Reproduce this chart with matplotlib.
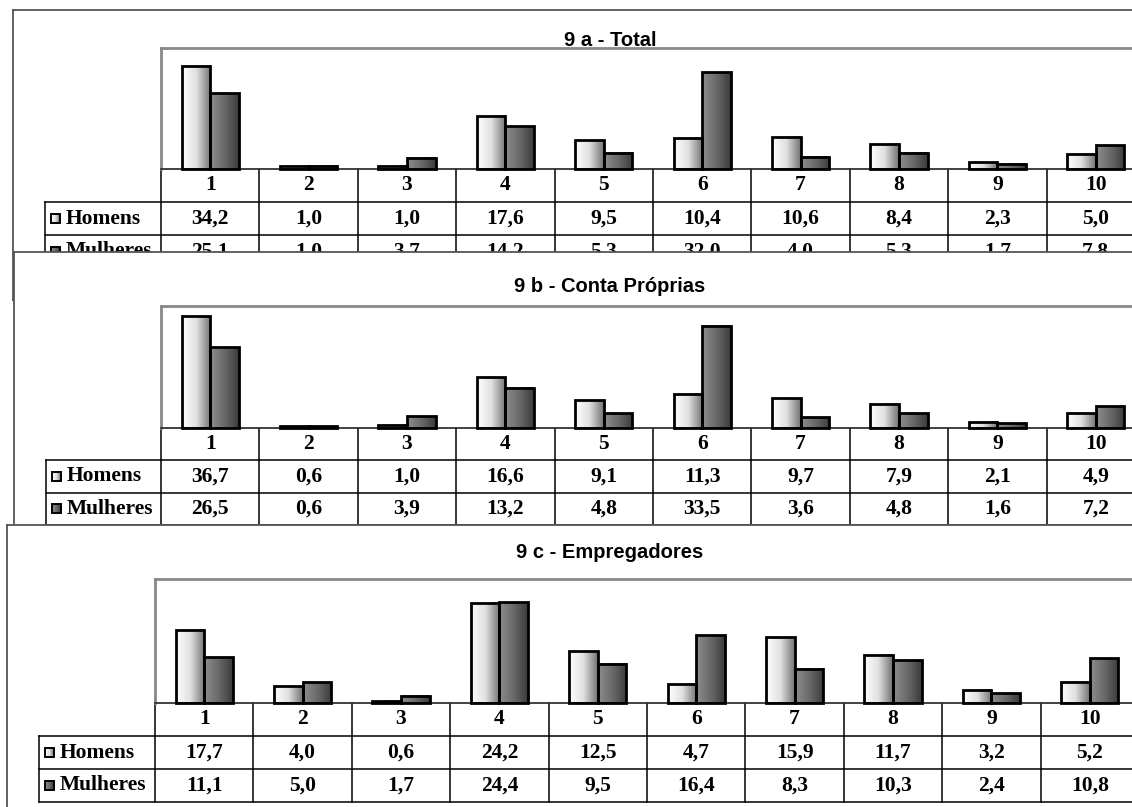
import numpy as np
import matplotlib.pyplot as plt
from matplotlib.patches import Rectangle
from matplotlib.colors import LinearSegmentedColormap

# ---------------- dados ----------------
categorias = ['1', '2', '3', '4', '5', '6', '7', '8', '9', '10']
series = ['Homens', 'Mulheres']

total_homens = [34.2, 1.0, 1.0, 17.6, 9.5, 10.4, 10.6, 8.4, 2.3, 5.0]
total_mulheres = [25.1, 1.0, 3.7, 14.2, 5.3, 32.0, 4.0, 5.3, 1.7, 7.8]

conta_homens = [36.7, 0.6, 1.0, 16.6, 9.1, 11.3, 9.7, 7.9, 2.1, 4.9]
conta_mulheres = [26.5, 0.6, 3.9, 13.2, 4.8, 33.5, 3.6, 4.8, 1.6, 7.2]

empreg_homens = [17.7, 4.0, 0.6, 24.2, 12.5, 4.7, 15.9, 11.7, 3.2, 5.2]
empreg_mulheres = [11.1, 5.0, 1.7, 24.4, 9.5, 16.4, 8.3, 10.3, 2.4, 10.8]

titulos = ['9 a - Total', '9 b - Conta Próprias', '9 c - Empregadores']
valores = [(total_homens, total_mulheres),
           (conta_homens, conta_mulheres),
           (empreg_homens, empreg_mulheres)]
ymax = [40, 40, 30]

# ---------------- layout (pixels, y para baixo) ----------------
W_PX, H_PX, DPI = 1132, 807, 100
RIGHT = 1170
COL_W = 98.4
layout = [
    # moldura x0, y0, y1 | area do grafico: esquerda, topo, base | cabecalho, altura linha, titulo y
    dict(fx=13, fy0=10, fy1=300, L=161, top=48, base=169, hl=45, rh=33, ty=40),
    dict(fx=14, fy0=252, fy1=560, L=161, top=306, base=428, hl=46, rh=32.3, ty=287),
    dict(fx=7, fy0=525, fy1=830, L=155, top=579, base=703, hl=39, rh=33, ty=553),
]

cmap_h = LinearSegmentedColormap.from_list('h', ['#ffffff', '#e0e0e0', '#727272'])
cmap_m = LinearSegmentedColormap.from_list('m', ['#8e8e8e', '#6a6a6a', '#3a3a3a'])
grad = np.linspace(0, 1, 256).reshape(1, -1)

serif = dict(family='Liberation Serif', weight='bold', size=15.5)
sans = dict(family='Liberation Sans', weight='bold', size=14.5)

fig = plt.figure(figsize=(W_PX / DPI, H_PX / DPI), dpi=DPI)
fig.patch.set_facecolor('white')


def px_axes(x0, y0, x1, y1):
    return fig.add_axes([x0 / W_PX, 1 - y1 / H_PX, (x1 - x0) / W_PX, (y1 - y0) / H_PX])


def gradient(ax, x0, x1, y0, y1, cmap, z):
    ax.imshow(grad, cmap=cmap, extent=(x0, x1, y0, y1), aspect='auto',
              interpolation='bilinear', zorder=z)


for i, (lay, titulo, (homens, mulheres)) in enumerate(zip(layout, titulos, valores)):
    z = 10 * (i + 1)

    # moldura do painel, em coordenadas de pixel
    pan = px_axes(lay['fx'], lay['fy0'], RIGHT, lay['fy1'])
    pan.set_zorder(z)
    pan.set_facecolor('white')
    pan.set_xticks([])
    pan.set_yticks([])
    for s in pan.spines.values():
        s.set_color('#555555')
        s.set_linewidth(1.3)

    pan.text(610, lay['ty'], titulo, ha='center', va='center', fontdict=sans, zorder=5)

    # tabela de dados
    L, T, rh, hl = lay['L'], lay['base'], lay['rh'], lay['hl']
    R = L + COL_W * len(categorias)
    for k in range(1, 4):
        pan.plot([hl, R], [T + k * rh] * 2, color='black', lw=1.1, zorder=3)
    pan.plot([hl, hl], [T + rh, T + 3 * rh], color='black', lw=1.1, zorder=3)
    for k in range(len(categorias) + 1):
        pan.plot([L + k * COL_W] * 2, [T, T + 3 * rh], color='black', lw=1.1, zorder=3)

    for j, cat in enumerate(categorias):
        cx = L + (j + 0.5) * COL_W
        pan.text(cx, T + 0.5 * rh, cat, ha='center', va='center', fontdict=serif, zorder=5)
        pan.text(cx, T + 1.5 * rh, f'{homens[j]:.1f}'.replace('.', ','),
                 ha='center', va='center', fontdict=serif, zorder=5)
        pan.text(cx, T + 2.5 * rh, f'{mulheres[j]:.1f}'.replace('.', ','),
                 ha='center', va='center', fontdict=serif, zorder=5)

    # legenda dentro do cabecalho das linhas
    for r, (nome, cmap) in enumerate(zip(series, [cmap_h, cmap_m])):
        cy = T + (1.5 + r) * rh
        gradient(pan, hl + 6, hl + 15, cy + 4.5, cy - 4.5, cmap, 4)
        pan.add_patch(Rectangle((hl + 6, cy - 4.5), 9, 9, facecolor='none',
                                edgecolor='black', lw=1.4, zorder=5))
        pan.text(hl + 21, cy, nome, ha='left', va='center', fontdict=serif, zorder=5)

    pan.set_xlim(lay['fx'], RIGHT)
    pan.set_ylim(lay['fy1'], lay['fy0'])

    # area do grafico de barras
    bax = px_axes(L, lay['top'], R, T)
    bax.set_zorder(z + 1)
    bax.patch.set_alpha(0)
    bax.set_xticks([])
    bax.set_yticks([])
    for nome in ['top', 'left', 'right']:
        bax.spines[nome].set_color('#888888')
        bax.spines[nome].set_linewidth(2)
    bax.spines['bottom'].set_color('#333333')
    bax.spines['bottom'].set_linewidth(1.3)

    x = np.arange(len(categorias)) + 0.5
    bw = 0.29
    barras_h = bax.bar(x - bw / 2, homens, bw, facecolor='none', edgecolor='black',
                       lw=2, zorder=3, clip_on=False)
    barras_m = bax.bar(x + bw / 2, mulheres, bw, facecolor='none', edgecolor='black',
                       lw=2, zorder=3, clip_on=False)
    for barras, cmap in [(barras_h, cmap_h), (barras_m, cmap_m)]:
        for rect in barras:
            x0, w, h = rect.get_x(), rect.get_width(), rect.get_height()
            gradient(bax, x0, x0 + w, 0, h, cmap, 2)

    bax.set_xlim(0, len(categorias))
    bax.set_ylim(0, ymax[i])

fig.savefig('out.png', dpi=DPI, facecolor='white')
